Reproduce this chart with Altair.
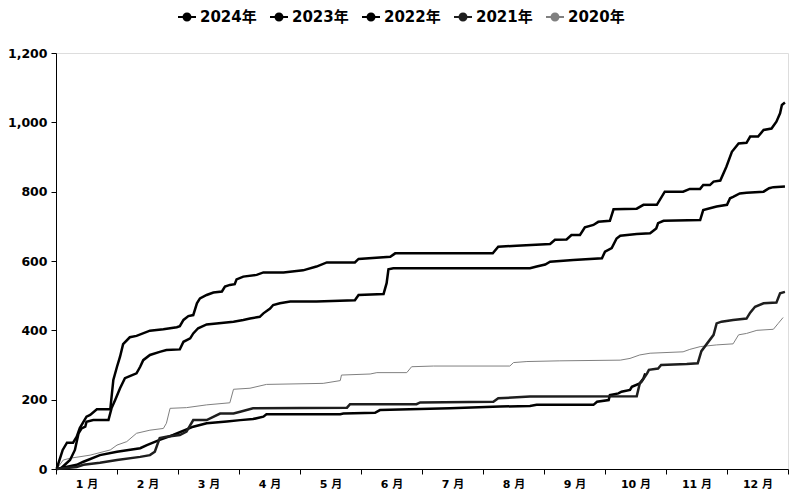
import altair as alt
import pandas as pd

years = ["2024年", "2023年", "2022年", "2021年", "2020年"]
colors = ["#000000", "#000000", "#000000", "#1e1e1e", "#808080"]
month_labels = ["1 月", "2 月", "3 月", "4 月", "5 月", "6 月", "7 月", "8 月", "9 月", "10 月", "11 月", "12 月"]
y_ticks = [0, 200, 400, 600, 800, 1000, 1200]

# x in months since Jan 1 (0..12), values cumulative
x_2023 = [0.01, 0.11, 0.18, 0.28, 0.34, 0.39, 0.50, 0.56, 0.67, 0.89, 0.94, 1.00, 1.05, 1.10, 1.21, 1.32,
          1.54, 1.76, 1.98, 2.03, 2.09, 2.17, 2.25, 2.31, 2.36, 2.47, 2.58, 2.72, 2.77, 2.85, 2.93, 2.96,
          3.07, 3.29, 3.40, 3.73, 4.05, 4.27, 4.44, 4.90, 4.96, 5.48, 5.56, 7.16, 7.25, 7.55, 8.10, 8.18,
          8.37, 8.45, 8.59, 8.67, 8.81, 8.89, 9.08, 9.14, 9.52, 9.63, 9.85, 9.98, 10.28, 10.39, 10.56,
          10.61, 10.72, 10.78, 10.89, 10.99, 11.08, 11.19, 11.32, 11.38, 11.51, 11.60, 11.73, 11.81,
          11.87, 11.90, 11.95]
v_2023 = [0, 55, 76, 76, 93, 118, 151, 156, 172, 172, 257, 295, 324, 360, 380, 384,
          399, 403, 409, 412, 430, 441, 444, 478, 492, 502, 509, 512, 526, 531, 533, 547,
          555, 560, 567, 567, 573, 584, 596, 596, 606, 612, 622, 622, 641, 644, 649, 661,
          662, 675, 675, 697, 704, 713, 716, 749, 751, 762, 762, 800, 800, 808, 808,
          819, 819, 829, 832, 872, 915, 939, 941, 959, 959, 978, 982, 1002,
          1026, 1050, 1057]

x_2022 = [0.07, 0.23, 0.31, 0.37, 0.42, 0.48, 0.50, 0.61, 0.86, 0.91, 0.97, 1.05, 1.13, 1.21, 1.32, 1.38,
          1.43, 1.54, 1.70, 1.81, 2.03, 2.09, 2.20, 2.25, 2.33, 2.47, 2.63, 2.91, 3.07, 3.18, 3.34, 3.40,
          3.51, 3.56, 3.67, 3.84, 4.27, 4.90, 4.96, 5.37, 5.42, 5.45, 5.53, 7.77, 7.88, 8.02, 8.10, 8.48,
          8.95, 9.00, 9.11, 9.19, 9.25, 9.52, 9.74, 9.84, 9.87, 9.96, 10.56, 10.61, 10.72, 10.83, 11.00,
          11.05, 11.10, 11.21, 11.32, 11.60, 11.69, 11.76, 11.95]
v_2022 = [0, 26, 55, 103, 117, 122, 136, 141, 141, 175, 199, 233, 262, 268, 276, 295,
          314, 329, 338, 343, 345, 367, 377, 391, 406, 417, 420, 425, 430, 434, 439, 449,
          463, 473, 478, 483, 483, 487, 502, 505, 536, 576, 579, 579, 584, 590, 598, 603,
          608, 627, 637, 665, 673, 678, 680, 694, 709, 716, 718, 747, 752, 757, 762,
          781, 785, 795, 797, 800, 810, 813, 815]

x_2021 = [0.01, 0.34, 0.45, 0.72, 1.00, 1.38, 1.54, 1.62, 1.70, 1.81, 2.03, 2.14, 2.25, 2.47, 2.69, 2.91,
          3.02, 3.23, 4.77, 4.82, 5.91, 5.97, 7.17, 7.25, 7.77, 9.52, 9.57, 9.60, 9.69, 9.72, 9.87, 9.92,
          10.34, 10.52, 10.58, 10.78, 10.83, 10.91, 11.10, 11.32, 11.38, 11.46, 11.60, 11.81, 11.87, 11.95]
v_2021 = [0, 6, 12, 18, 26, 35, 40, 50, 89, 93, 98, 108, 141, 141, 160, 160,
          165, 175, 177, 187, 187, 192, 194, 204, 209, 210, 247, 252, 276, 286, 290, 300,
          303, 305, 340, 387, 420, 425, 430, 434, 451, 468, 478, 480, 507, 511]

x_2024 = [0.01, 0.34, 0.45, 0.72, 1.00, 1.38, 1.49, 1.70, 1.92, 2.25, 2.47, 2.80, 3.02, 3.23, 3.40, 3.45,
          4.66, 4.71, 5.23, 5.31, 6.46, 7.28, 7.77, 7.88, 8.81, 8.87, 9.06, 9.08, 9.22, 9.27, 9.41, 9.44,
          9.57, 9.63, 9.66]
v_2024 = [0, 12, 21, 40, 50, 60, 69, 84, 98, 122, 132, 137, 141, 144, 151, 158,
          158, 160, 162, 170, 175, 180, 182, 185, 185, 194, 199, 213, 218, 223, 228, 237,
          247, 261, 276]

x_2020 = [0.01, 0.12, 0.23, 0.56, 0.89, 1.00, 1.16, 1.32, 1.54, 1.76, 1.81, 1.87, 2.14, 2.47, 2.85, 2.91,
          3.18, 3.45, 4.38, 4.66, 4.68, 5.15, 5.26, 5.75, 5.83, 6.19, 7.44, 7.50, 7.72, 8.26, 9.25, 9.41,
          9.57, 9.74, 10.28, 10.39, 10.56, 10.83, 11.10, 11.19, 11.32, 11.49, 11.76, 11.84, 11.92]
v_2020 = [0, 26, 31, 40, 55, 69, 79, 103, 112, 117, 132, 175, 177, 185, 191, 230,
          233, 244, 247, 255, 271, 274, 278, 278, 295, 297, 297, 307, 310, 312, 314, 319,
          329, 334, 338, 345, 353, 358, 361, 387, 391, 400, 403, 420, 437]

series = [("2024年", x_2024, v_2024), ("2023年", x_2023, v_2023), ("2022年", x_2022, v_2022),
          ("2021年", x_2021, v_2021), ("2020年", x_2020, v_2020)]
rows = []
for name, xs, vs in series:
    for i, (xv, vv) in enumerate(zip(xs, vs)):
        rows.append({"year": name, "m": xv, "v": vv, "i": i})
df = pd.DataFrame(rows)

FONT = "DejaVu Sans, Noto Sans CJK SC"
label_expr = "[" + ",".join("'%s'" % s for s in month_labels) + ", ''][datum.value]"

x_enc = alt.X("m:Q", scale=alt.Scale(domain=[0, 12], nice=False, zero=False),
              axis=alt.Axis(values=list(range(13)), labelExpr=label_expr, labelOffset=30.5,
                            title=None, grid=False, labelOverlap=False, labelFlush=False,
                            labelFont=FONT, labelFontSize=11, labelFontWeight="bold", labelColor="#000",
                            tickSize=5, tickColor="#000", domainColor="#000", labelPadding=4))
y_enc = alt.Y("v:Q", scale=alt.Scale(domain=[0, 1200], nice=False),
              axis=alt.Axis(values=y_ticks, format=",.0f", title=None, grid=False,
                            labelFont=FONT, labelFontSize=12.5, labelFontWeight="bold", labelColor="#000",
                            tickSize=5, tickColor="#000", domainColor="#000", labelPadding=4))
color_enc = alt.Color("year:N", scale=alt.Scale(domain=years, range=colors),
                      legend=alt.Legend(title=None, orient="none", legendX=122, legendY=-45,
                                        direction="horizontal", columns=5, columnPadding=13,
                                        symbolType="M-1,-0.12L1,-0.12L1,0.12L-1,0.12Z M-0.5,0A0.5,0.5,0,1,1,0.5,0A0.5,0.5,0,1,1,-0.5,0Z",
                                        symbolSize=324, symbolStrokeWidth=0, labelFont=FONT,
                                        labelFontSize=15, labelFontWeight="bold", labelColor="#000",
                                        labelOffset=4))

pts = alt.Chart(df).mark_point(filled=True, opacity=1).encode(
    x=x_enc, y=y_enc, color=color_enc).transform_filter("datum.v < 0")
gray_line = alt.Chart(df).mark_line(interpolate="linear", strokeWidth=1.0).encode(
    x=x_enc, y=y_enc, color=color_enc, order="i:Q").transform_filter("datum.year == '2020年'")
black_lines = alt.Chart(df).mark_line(interpolate="linear", strokeWidth=2.5).encode(
    x=x_enc, y=y_enc, color=color_enc, order="i:Q").transform_filter("datum.year != '2020年'")

chart = alt.layer(pts, gray_line, black_lines).properties(
    width=732, height=416,
    autosize=alt.AutoSizeParams(type="none"),
    padding={"left": 48, "top": 45, "right": 8, "bottom": 28},
).configure_view(stroke=None).configure(background="white")

chart.save("out.html", embed_options={"renderer": "svg", "actions": False})
